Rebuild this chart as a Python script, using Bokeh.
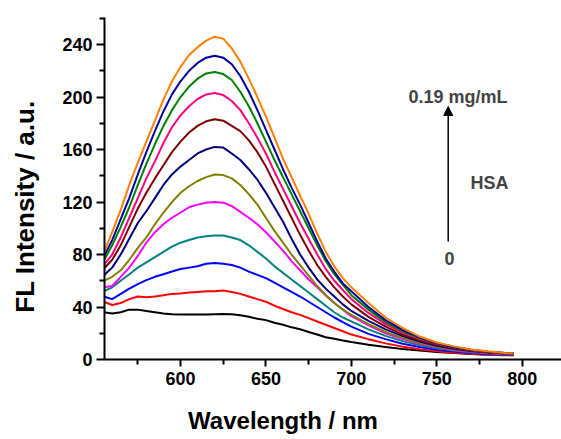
import math
from bokeh.plotting import figure
from bokeh.models import Range1d, FixedTicker, Label, Arrow, NormalHead
from bokeh.embed import file_html
from bokeh.resources import INLINE

# ---------------- data ----------------
wavelength = [555, 560, 565, 570, 575, 580, 585, 590, 595, 600,
              605, 610, 615, 620, 625, 630, 635, 640, 645, 650,
              655, 660, 665, 670, 675, 680, 685, 690, 695, 700,
              710, 720, 730, 740, 750, 760, 770, 780, 790, 795]

s_black = [36, 35, 36, 38, 38, 37, 36, 35, 34.5, 34.3,
           34.3, 34.3, 34.3, 34.5, 34.7, 34.5, 33.7, 32.5, 31, 30,
           28, 26.5, 24.5, 23, 21, 19, 17, 15.8, 14.5, 13.3,
           11.2, 9.5, 8, 6.8, 5.7, 4.9, 4.2, 3.7, 3.4, 3.3]
s_red = [44, 41.5, 43, 46, 48, 47.5, 48, 49, 50, 50.3,
         51, 51.5, 52, 52, 52.5, 51.5, 50, 48, 46, 44,
         41, 38.5, 36, 34, 31.5, 29, 26.5, 24, 21.5, 19,
         15.5, 12.3, 9.8, 7.8, 6.3, 5.1, 4.3, 3.7, 3.3, 3.2]
s_blue = [48, 46, 50, 54, 57.5, 60.5, 63, 65, 67, 69,
          70, 71, 73, 73.5, 73, 72, 70, 67, 64.5, 62,
          58.5, 55, 51.5, 48, 44, 40, 36, 32, 28.5, 25,
          19.5, 15.5, 12, 9.5, 7.5, 6, 5, 4.2, 3.6, 3.4]
s_teal = [52, 55, 60, 65, 70, 74, 78, 82, 86, 89,
          91, 93, 94, 94.5, 94.5, 93, 91, 87, 82, 77,
          71, 66, 61, 56, 51, 46, 41, 36, 32, 29,
          23, 18, 14, 10.8, 8.5, 6.8, 5.5, 4.6, 3.9, 3.7]
s_magenta = [55, 56, 63, 70, 79, 89, 97, 103, 108, 112,
             116, 118, 119.5, 120, 119.5, 117, 112.5, 108, 103, 97,
             90, 83, 75, 68, 61, 55, 49, 43, 38, 33,
             26, 20, 15.5, 12, 9.3, 7.3, 5.9, 4.9, 4.1, 3.9]
s_olive = [60, 63, 68, 76, 85, 93, 103, 112, 120, 127,
           132, 136, 139, 141, 140.5, 138, 133, 126, 118, 108,
           98, 89, 80, 72, 64, 56, 49, 43, 38, 34,
           27, 21, 16.3, 12.6, 9.8, 7.7, 6.2, 5.1, 4.3, 4.1]
s_navy = [64, 70, 80, 92, 104, 113, 123, 133, 141, 147,
          152, 157, 160, 162, 161.5, 157, 152, 145, 137, 127,
          116, 105, 92, 80, 70, 61, 54, 48, 42, 37,
          29.5, 23, 17.8, 13.6, 10.5, 8.2, 6.5, 5.3, 4.5, 4.2]
s_maroon = [69, 76, 87, 101, 115, 127, 138, 148, 158, 166,
            173, 178, 181.5, 183, 182, 178, 174, 167, 158, 147,
            134, 121, 108, 95, 83, 72, 63, 55, 48, 42,
            32.5, 25, 19, 14.6, 11.2, 8.7, 6.9, 5.6, 4.7, 4.4]
s_pink = [72, 80, 93, 108, 123, 138, 151, 165, 177, 186,
          193, 198.5, 202, 203, 201.5, 197, 190, 180, 169, 157,
          143, 130, 117, 104, 92, 80, 69, 60, 53, 46,
          35.5, 27, 20.5, 15.7, 11.9, 9.1, 7.2, 5.8, 4.8, 4.5]
s_green = [75, 87, 101, 116, 133, 149, 164, 178, 190, 200,
           208, 214, 218, 219, 217.5, 213, 204, 193, 180, 166,
           152, 139, 126, 113, 100, 87, 75, 65, 57, 49,
           38, 28.5, 21.5, 16.3, 12.3, 9.4, 7.4, 5.9, 4.9, 4.6]
s_darkblue = [78, 91, 107, 123, 141, 158, 174, 189, 202, 212,
              220, 226, 230, 231.5, 230, 225, 216, 204, 190, 175,
              160, 145, 131, 118, 104, 90, 77, 67, 58, 52,
              40, 30, 22.5, 16.8, 12.6, 9.6, 7.5, 6, 4.9, 4.6]
s_orange = [81, 97, 114, 133, 150, 166, 182, 198, 212, 223,
            232, 238, 243, 246, 244.5, 237, 227, 214, 200, 185,
            169, 153, 139, 125, 111, 96, 82, 71, 62, 55,
            43, 32, 24, 17.5, 13, 10, 7.7, 6.2, 5, 4.6]

series = [s_black, s_red, s_blue, s_teal, s_magenta, s_olive,
          s_navy, s_maroon, s_pink, s_green, s_darkblue, s_orange]
colors = ["#000000", "#FF0000", "#0000FF", "#008080", "#FF00FF", "#808000",
          "#000080", "#800000", "#FF0080", "#008000", "#0000A0", "#FF8000"]

x_major = [600, 650, 700, 750, 800]
x_minor = [575, 625, 675, 725, 775]
y_major = [0, 40, 80, 120, 160, 200, 240]
y_minor = [20, 60, 100, 140, 180, 220, 260]

x_title = "Wavelength / nm"
y_title = "FL Intensity / a.u."

# ---------------- layout ----------------
W_PX, H_PX = 561, 439
FL, FR, FT, FB = 104, 561, 17, 359
X_START, X_END = 555.5, 823.0
Y_START, Y_END = 0.0, 260.6

def dx(px):
    return X_START + (px - FL) * (X_END - X_START) / (FR - FL)

def dy(py):
    return Y_START + (FB - py) * (Y_END - Y_START) / (FB - FT)

p = figure(width=W_PX, height=H_PX, output_backend="svg", toolbar_location=None,
           x_range=Range1d(X_START, X_END), y_range=Range1d(Y_START, Y_END),
           min_border_left=FL, min_border_right=W_PX - FR,
           min_border_top=FT, min_border_bottom=H_PX - FB)
p.outline_line_color = None
p.xgrid.visible = False
p.ygrid.visible = False
p.background_fill_color = "white"
p.border_fill_color = "white"

for s, c in zip(series, colors):
    p.line(wavelength, s, line_color=c, line_width=2)

FONT = "Liberation Sans"
for ax in (p.xaxis, p.yaxis):
    ax.axis_line_width = 2
    ax.axis_line_color = "black"
    ax.major_tick_line_width = 2
    ax.minor_tick_line_width = 2
    ax.major_tick_line_color = "black"
    ax.minor_tick_line_color = "black"
    ax.major_tick_in = 0
    ax.minor_tick_in = 0
    ax.major_label_text_font = FONT
    ax.major_label_text_font_style = "bold"
    ax.major_label_text_font_size = "18px"
    ax.major_label_text_color = "black"
    ax.axis_label_text_font = FONT
    ax.axis_label_text_font_style = "bold"
    ax.axis_label_text_color = "black"

p.xaxis.ticker = FixedTicker(ticks=x_major, minor_ticks=x_minor)
p.yaxis.ticker = FixedTicker(ticks=y_major, minor_ticks=y_minor)
p.xaxis.major_tick_out = 7
p.xaxis.minor_tick_out = 5
p.yaxis.major_tick_out = 8
p.yaxis.minor_tick_out = 5
p.xaxis.major_label_standoff = 5
p.yaxis.major_label_standoff = 4

# axis titles: trailing no-break spaces shift the centred text to where the reference has it
NBSP = "\u00a0"
p.xaxis.axis_label = x_title + NBSP * 15
p.xaxis.axis_label_text_font_size = "24px"
p.xaxis.axis_label_standoff = 19
p.yaxis.axis_label = y_title + NBSP * 5
p.yaxis.axis_label_text_font_size = "26px"
p.yaxis.axis_label_standoff = 19

# annotations
p.add_layout(Arrow(end=NormalHead(size=9, fill_color="black", line_color="black", line_width=1),
                   x_start=dx(447.7), y_start=dy(241), x_end=dx(447.7), y_end=dy(106),
                   line_color="black", line_width=1.5))
p.add_layout(Label(x=dx(457.5), y=dy(96), text="0.19 mg/mL",
                   text_font=FONT, text_font_style="bold", text_font_size="18px",
                   text_align="center", text_baseline="alphabetic"))
p.add_layout(Label(x=dx(470), y=dy(182.7), text="HSA",
                   text_font=FONT, text_font_style="bold", text_font_size="18px",
                   text_align="left", text_baseline="alphabetic"))
p.add_layout(Label(x=dx(449), y=dy(258.3), text="0",
                   text_font=FONT, text_font_style="bold", text_font_size="18px",
                   text_align="center", text_baseline="alphabetic"))

open("out.html", "w").write(file_html(p, INLINE))
